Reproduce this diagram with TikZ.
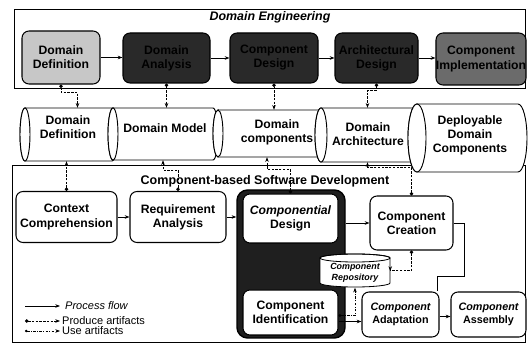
\documentclass[tikz,border=0pt]{standalone}
\usepackage{fontspec}
\setmainfont{Liberation Sans}
\usetikzlibrary{arrows.meta,calc}
% horizontal cylinder: left cap centre x, right cap centre x, top y, bottom y, cap radius (px)
\newcommand\hcyl[5]{%
  \pgfmathsetmacro\cylry{(#4-#3)/2*0.03}%
  \filldraw[cyl] (#1,#3) -- (#2,#3)
    arc[start angle=90,end angle=-90,x radius=#5*0.03cm,y radius=\cylry cm]
    -- (#1,#4)
    arc[start angle=270,end angle=90,x radius=#5*0.03cm,y radius=\cylry cm] -- cycle;
  \draw[cyl] (#1,{(#3+#4)/2}) ellipse [x radius=#5*0.03cm,y radius=\cylry cm];}
\tikzset{
  sz/.style 2 args={minimum width=#1*0.03cm,minimum height=#2*0.03cm},
  big/.style={font=\fontsize{10.4}{12}\selectfont\bfseries,align=center,inner sep=0pt},
  mid/.style={font=\fontsize{9.2}{11}\selectfont\bfseries,align=center,inner sep=0pt},
  proc/.style={big,draw,line width=0.9pt,rounded corners=6pt,fill=white},
  dark/.style={fill=black!84,text=black},
  frame/.style={draw,line width=0.8pt},
  cyl/.style={draw,line width=0.8pt,fill=white},
  flow/.style={draw,line width=0.6pt,-{Stealth[length=4pt,width=3pt]}},
  prod/.style={draw,line width=0.6pt,dash pattern=on 2pt off 1.2pt,
    {Circle[length=3pt]}-{Stealth[length=4pt,width=3pt]}},
  usea/.style={draw,line width=0.6pt,dash pattern=on 2.4pt off 1pt on 0.8pt off 1pt,
    {Circle[length=2.2pt]}-{Stealth[length=4pt,width=3pt]}},
  legend/.style={anchor=west,inner sep=0pt,font=\fontsize{9.4}{10}\selectfont},
}
\begin{document}
\begin{tikzpicture}[x=0.03cm,y=-0.03cm]
\useasboundingbox (0,0) rectangle (528,347);

% ---------- Domain Engineering ----------
\draw[frame] (14,9) rectangle (525,88);
\node[font=\fontsize{10.6}{12}\selectfont\bfseries\itshape] (detitle) at (270,17) {Domain Engineering};

\node[proc,sz={78}{53},fill=black!22] (de1) at (61,57.5) {Domain\\Definition};
\node[proc,sz={87}{50},dark] (de2) at (166.5,58) {Domain\\Analysis};
\node[proc,sz={88}{50},dark] (de3) at (274,58) {Component\\Design};
\node[proc,sz={83}{50},dark] (de4) at (376.5,58) {Architectural\\Design};
\node[proc,sz={88}{52},fill=black!58,text=black] (de5) at (481,59) {Component\\Implementation};

\draw[flow] (de1.east) -- (de1.east -| de2.west);
\draw[flow] (de2.east) -- (de2.east -| de3.west);
\draw[flow] (de3.east) -- (de3.east -| de4.west);
\draw[flow] (de4.east) -- (de4.east -| de5.west);

% ---------- Component-based Software Development frame ----------
\draw[frame] (12,165) rectangle (525,342);
\node[font=\fontsize{10.7}{12}\selectfont\bfseries] (cbtitle) at (265,181) {Component-based Software Development};

% ---------- artifacts (cylinders) ----------
\hcyl{25}{112}{108}{161}{5}
\node[sz={87}{53}] (cy1) at (68.5,134.5) {};
\node[big] (cy1t) at (68,127) {Domain\\Definition};

\hcyl{113}{213}{108}{160}{5}
\node[sz={100}{52}] (cy2) at (163,134) {};
\node[big] (cy2t) at (165,128) {Domain Model};

\hcyl{218}{320}{110}{157}{5}
\node[sz={102}{47}] (cy3) at (269,133.5) {};
\node[big] (cy3t) at (277,132) {Domain\\components};

\hcyl{321}{414}{108}{162}{6}
\node[sz={93}{54}] (cy4) at (367.5,135) {};
\node[big] (cy4t) at (368,134) {Domain\\Architecture};

\hcyl{417}{518}{104}{172}{9}
\node[sz={101}{68}] (cy5) at (467.5,138) {};
\node[big] (cy5t) at (470,135) {Deployable\\Domain\\Components};

% ---------- processes ----------
\node[proc,sz={101}{51}] (ctx) at (66.5,217) {Context\\Comprehension};
\node[proc,sz={96}{51}] (req) at (178,217) {Requirement\\Analysis};

\node[draw,line width=1.2pt,fill=black!88,rounded corners=9pt,sz={108}{148}] (focus) at (291,264) {};
\node[proc,sz={95}{49}] (cd) at (290.5,218.5) {{\itshape Componential}\\Design};
\node[proc,sz={95}{45}] (ci) at (290.5,312.5) {Component\\Identification};

\node[proc,sz={83}{54}] (cc) at (411.5,223) {Component\\Creation};

% component repository (upright cylinder)
\filldraw[cyl,line width=0.7pt] (320,258) -- (320,283)
  arc[start angle=180,end angle=360,x radius=35*0.03cm,y radius=4*0.03cm]
  -- (390,258)
  arc[start angle=0,end angle=180,x radius=35*0.03cm,y radius=4*0.03cm] -- cycle;
\draw[line width=0.7pt] (355,258) ellipse [x radius=35*0.03cm,y radius=4*0.03cm];
\node[sz={70}{33}] (repo) at (355,271) {};
\node[font=\fontsize{7.6}{9}\selectfont\bfseries\itshape,align=center,inner sep=0pt] (repot) at (355,273) {Component\\Repository};

\node[proc,mid,sz={77}{45}] (ad) at (400.5,314.5) {{\itshape Component}\\Adaptation};
\node[proc,mid,sz={75}{45}] (as) at (488.5,314.5) {{\itshape Component}\\Assembly};

% ---------- process flow ----------
\draw[flow] (ctx.east) -- (ctx.east -| req.west);
\draw[flow] (req.east) -- (req.east -| focus.west);
\draw[flow] (cc.west -| focus.east) -- (cc.west);
\draw[flow] ($(ci.east)+(0,9)$) -- ($(ci.east -| ad.west)+(0,9)$);
\draw[flow] ($(ad.east)+(0,2)$) -- ($(ad.east -| as.west)+(0,2)$);
\draw[line width=0.6pt] (cc.east) -- ++(11,0) |- ($(ad.north east)+(-2,-15)$)
  -- ($(ad.north east)+(-2,0)$);

% ---------- produced artifacts ----------
\draw[prod] (de1.south) -- ++(0,8) -| ($(cy1.north)+(9,0)$);
\draw[prod] (de2.south) -- (de2.south |- cy2.north);
\draw[prod] (de3.south) -- (de3.south |- cy3.north);
\draw[prod] (de4.south) -- ++(0,7) -| (cy4.north);

\draw[prod] (ctx.north) -- (ctx.north |- cy1.south);
\draw[prod] (req.north) -- ++(0,-21) -| (cy2.south);
\draw[prod] (cd.north) -- ++(0,-24) -| ($(cy3.south)+(-2,0)$);
\draw[prod] (cc.north) -- ++(0,-28) -| (cy4.south);
\draw[prod] (cc.south) -- ++(0,20) -| (repo.east);
\draw[usea] ($(ci.east)+(0,3)$) -| (repo.south);

% ---------- legend ----------
\coordinate (l1a) at (25,306); \coordinate (l1b) at (60,306);
\coordinate (l2a) at (25,321); \coordinate (l2b) at (60,321);
\coordinate (l3a) at (25,331); \coordinate (l3b) at (60,331);
\draw[flow] (l1a) -- (l1b);
\draw[prod] (l2a) -- (l2b);
\draw[usea] (l3a) -- (l3b);
\node[legend,font=\fontsize{9.4}{10}\selectfont\itshape] (l1t) at (65,306) {Process flow};
\node[legend] (l2t) at (62,321) {Produce artifacts};
\node[legend] (l3t) at (62,331) {Use artifacts};
\end{tikzpicture}
\end{document}
